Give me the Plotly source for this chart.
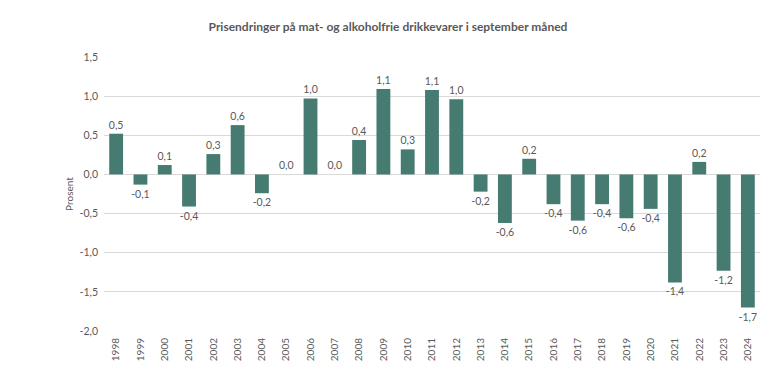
import plotly.graph_objects as go

years = [str(y) for y in range(1998, 2025)]
values = [0.52, -0.13, 0.12, -0.41, 0.26, 0.63, -0.24, 0.0, 0.97, 0.0,
          0.44, 1.09, 0.32, 1.08, 0.96, -0.22, -0.62, 0.20, -0.38, -0.59,
          -0.38, -0.56, -0.44, -1.38, 0.16, -1.23, -1.70]
labels = [f"{v:.1f}".replace(".", ",") for v in values]
y_tickvals = [1.5, 1.0, 0.5, 0.0, -0.5, -1.0, -1.5, -2.0]
y_ticktext = ["1,5", "1,0", "0,5", "0,0", "-0,5", "-1,0", "-1,5", "-2,0"]

title = "Prisendringer på mat- og alkoholfrie drikkevarer i september måned"

fig = go.Figure(go.Bar(
    x=years, y=values, text=labels, textposition="outside",
    constraintext="none",
    marker=dict(color="#467B71", line=dict(width=0)),
    textfont=dict(size=10.5, color="#595959"),
    cliponaxis=False,
))

# page body has an 8px margin, so the figure is sized to fit the window
fig.update_layout(
    width=760, height=381,
    margin=dict(l=96, r=8, t=49, b=58, autoexpand=False),
    paper_bgcolor="white", plot_bgcolor="white",
    font=dict(family="Lato, Carlito, sans-serif", color="#595959", size=11),
    title=dict(text="<b>" + title + "</b>", x=0.5, xanchor="center", y=0.95, yanchor="middle",
               font=dict(size=12, color="#595959")),
    bargap=0.43,
    showlegend=False,
)
fig.update_yaxes(range=[-2.0, 1.5], tickvals=y_tickvals, ticktext=y_ticktext,
                 automargin=False,
                 showgrid=True, gridcolor="#D9D9D9", gridwidth=1,
                 zeroline=True, zerolinecolor="#D9D9D9", zerolinewidth=1,
                 showline=False, ticks="", ticklen=0, ticklabelstandoff=5,
                 title=dict(text="Prosent", font=dict(size=10, color="#595959"), standoff=4),
                 tickfont=dict(size=10.5, color="#595959"))
fig.update_xaxes(tickangle=-90, showgrid=False, showline=False, ticks="",
                 automargin=False, ticklabelstandoff=4,
                 tickfont=dict(size=10, color="#595959"))

fig.write_html("out.html")
